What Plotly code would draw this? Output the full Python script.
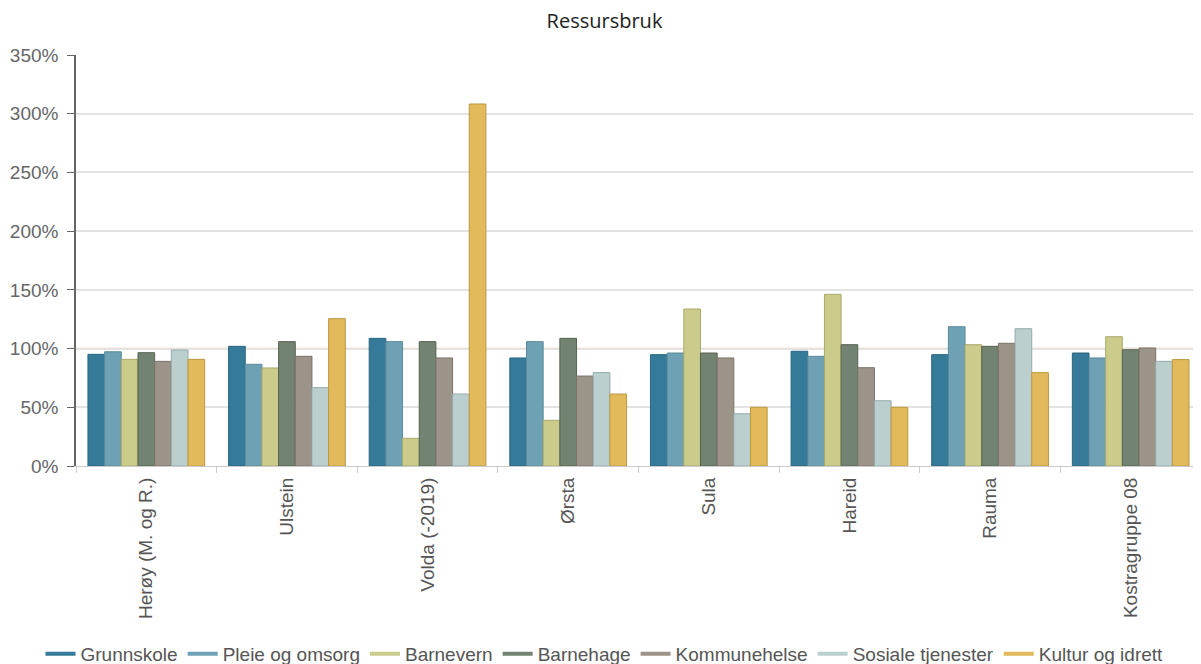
import plotly.graph_objects as go

categories = ["Herøy (M. og R.)", "Ulstein", "Volda (-2019)", "Ørsta", "Sula", "Hareid", "Rauma", "Kostragruppe 08"]
series_names = ["Grunnskole", "Pleie og omsorg", "Barnevern", "Barnehage", "Kommunehelse", "Sosiale tjenester", "Kultur og idrett"]

grunnskole = [95.1, 101.9, 108.7, 92.0, 94.8, 97.7, 94.8, 96.2]
pleie = [97.3, 86.6, 105.9, 105.9, 96.2, 93.4, 118.6, 92.0]
barnevern = [90.8, 83.5, 23.6, 38.9, 133.7, 146.2, 103.3, 110.1]
barnehage = [96.5, 105.9, 105.9, 108.7, 96.2, 103.3, 101.9, 99.0]
kommunehelse = [89.1, 93.4, 92.0, 76.6, 92.0, 83.7, 104.5, 100.5]
sosiale = [98.8, 66.7, 61.3, 79.5, 44.5, 55.6, 116.9, 89.1]
kultur = [90.8, 125.5, 308.3, 61.3, 50.0, 50.0, 79.5, 90.6]

series_values = [grunnskole, pleie, barnevern, barnehage, kommunehelse, sosiale, kultur]
fill_colors = ["#357A99", "#6FA1B4", "#CBCC8C", "#738371", "#9C9389", "#BBCFCF", "#E2BA5C"]
line_colors = ["#2A6580", "#5A8A9C", "#A9AA6A", "#56634F", "#7A726A", "#95AAAA", "#BC9842"]

reference_value = 100
y_ticks = [0, 50, 100, 150, 200, 250, 300, 350]
y_tick_labels = ["0%", "50%", "100%", "150%", "200%", "250%", "300%", "350%"]

fig = go.Figure()
for name, vals, fc, lc in zip(series_names, series_values, fill_colors, line_colors):
    fig.add_trace(go.Bar(
        x=categories, y=vals, name=name, showlegend=False,
        marker=dict(color=fc, line=dict(color=lc, width=1)),
        hovertemplate="%{x}<br>" + name + ": %{y:.1f}%<extra></extra>",
    ))
for name, fc in zip(series_names, fill_colors):
    fig.add_trace(go.Scatter(
        x=[None], y=[None], mode="lines", name=name,
        line=dict(color=fc, width=4), showlegend=True,
    ))

fig.add_shape(type="line", xref="paper", x0=0, x1=1, yref="y",
              y0=reference_value, y1=reference_value,
              line=dict(color="#F2C894", width=1.5), layer="below")

W, H = 1193, 656
fig.update_layout(
    width=W, height=H,
    margin=dict(l=68, r=0, t=47, b=198, autoexpand=False),
    paper_bgcolor="white", plot_bgcolor="white",
    title=dict(text="Ressursbruk", x=0.5, xref="container", xanchor="center",
               yref="container", y=1 - 13 / H, yanchor="middle",
               font=dict(family="Open Sans", size=20, color="#222222")),
    font=dict(family="Liberation Sans, Arial", size=19, color="#666666"),
    barmode="group", bargap=0.17, bargroupgap=0,
    showlegend=True,
    legend=dict(orientation="h", xref="container", yref="container",
                x=0.5, xanchor="center", y=1 - 646 / H, yanchor="middle",
                font=dict(family="Liberation Sans, Arial", size=19, color="#555555"),
                itemwidth=30, tracegroupgap=0),
    xaxis=dict(
        type="category", tickangle=-90, tickson="boundaries",
        ticks="outside", ticklen=6, tickcolor="#CCCCCC",
        showline=True, linecolor="#CCCCCC", linewidth=1,
        showgrid=False, tickfont=dict(size=19, color="#555555"),
        ticklabelstandoff=3, automargin=False,
    ),
    yaxis=dict(
        range=[0, 350], tickvals=y_ticks, ticktext=y_tick_labels,
        ticks="outside", ticklen=7, tickcolor="#666666",
        showline=True, linecolor="#666666", linewidth=1.5,
        showgrid=True, gridcolor="#E3E3E3", gridwidth=1.5,
        zeroline=False, tickfont=dict(size=19, color="#666666"),
        ticklabelstandoff=5, automargin=False,
    ),
)

fig.write_html("out.html")
